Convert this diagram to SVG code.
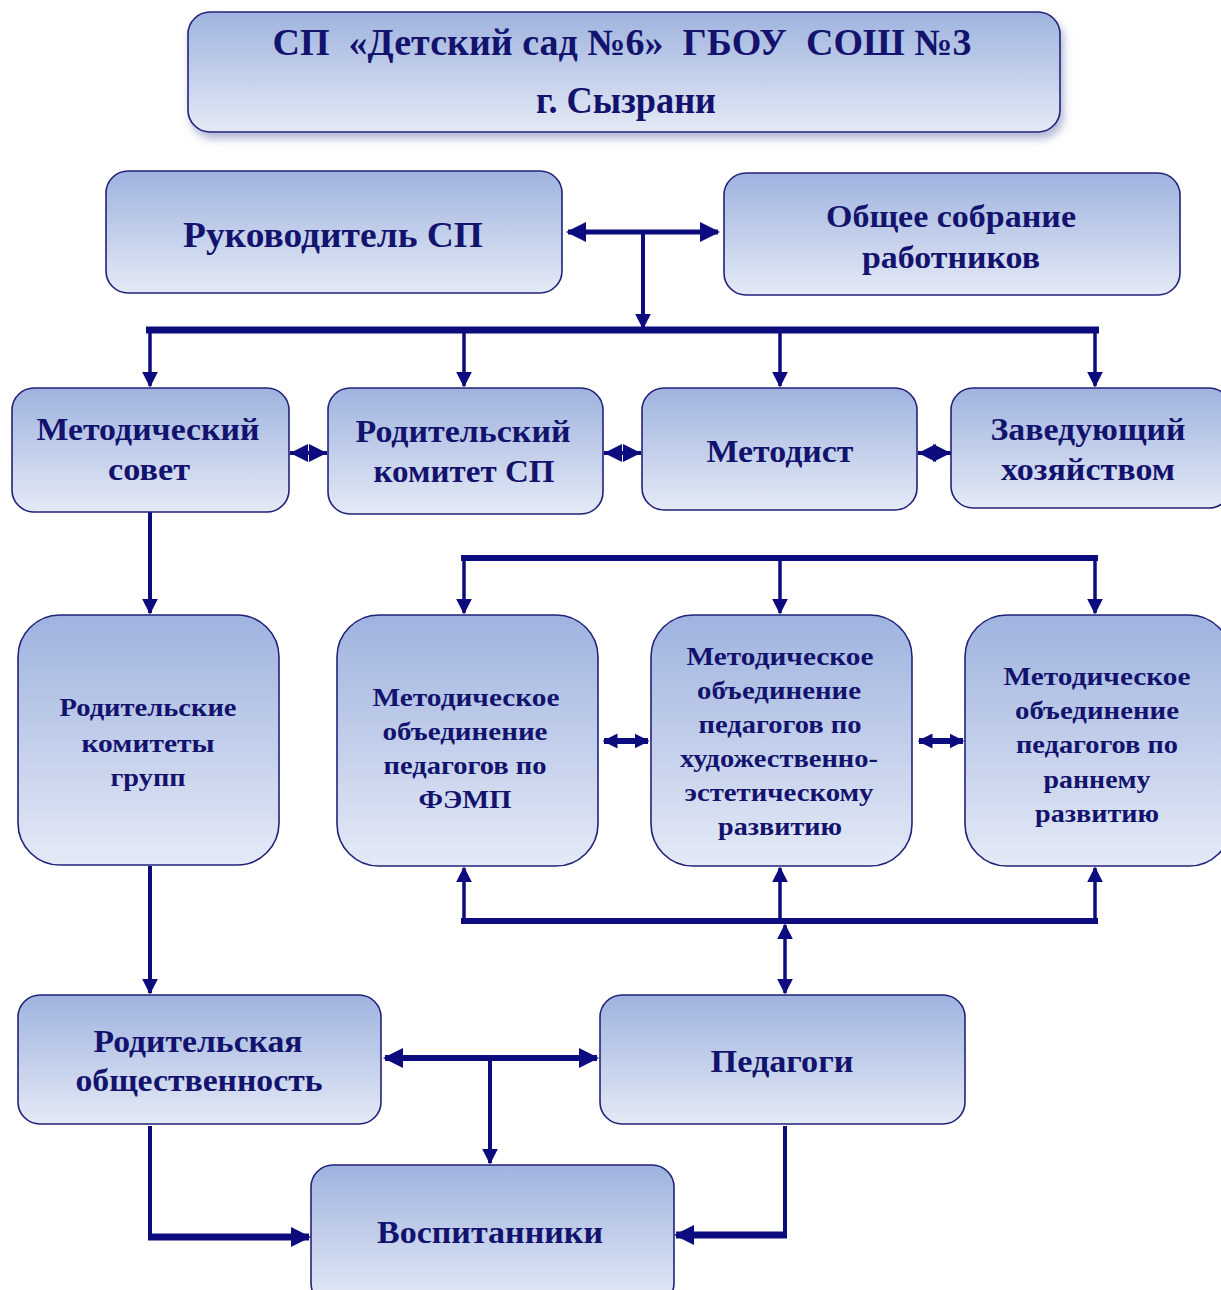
<svg xmlns="http://www.w3.org/2000/svg" width="1221" height="1290" viewBox="0 0 1221 1290">
<defs>
<linearGradient id="g" x1="0" y1="0" x2="0" y2="1">
<stop offset="0" stop-color="#9fb3df"/>
<stop offset="1" stop-color="#e4eaf6"/>
</linearGradient>
<filter id="sh" x="-10%" y="-10%" width="120%" height="140%">
<feGaussianBlur in="SourceAlpha" stdDeviation="4"/>
<feOffset dx="3" dy="6" result="b"/>
<feFlood flood-color="#5060a0" flood-opacity="0.45"/>
<feComposite in2="b" operator="in"/>
<feMerge><feMergeNode/><feMergeNode in="SourceGraphic"/></feMerge>
</filter>
<marker id="ah" viewBox="0 0 10 10" refX="9" refY="5" markerWidth="16" markerHeight="16" markerUnits="userSpaceOnUse" orient="auto-start-reverse">
<path d="M0,0 L10,5 L0,10 z" fill="#0c0c7e"/>
</marker>
<marker id="ahb" viewBox="0 0 10 10" refX="9" refY="5" markerWidth="20" markerHeight="22" markerUnits="userSpaceOnUse" orient="auto-start-reverse">
<path d="M0,0 L10,5 L0,10 z" fill="#0c0c7e"/>
</marker>
<marker id="ahd" viewBox="0 0 10 10" refX="10" refY="5" markerWidth="18" markerHeight="22" markerUnits="userSpaceOnUse" orient="auto-start-reverse">
<path d="M0,0 L10,5 L0,10 z" fill="#0c0c7e"/>
</marker>
<marker id="ahs" viewBox="0 0 10 10" refX="9" refY="5" markerWidth="15" markerHeight="22" markerUnits="userSpaceOnUse" orient="auto-start-reverse">
<path d="M0,0 L10,5 L0,10 z" fill="#0c0c7e"/>
</marker>
</defs>
<style>
.box{fill:url(#g);stroke:#22227a;stroke-width:1.6}
.t{font-family:"Liberation Serif","Times New Roman",serif;font-weight:bold;fill:#13136e;text-anchor:middle}
.c{fill:none;stroke:#0c0c7e;stroke-linejoin:miter}
</style>
<rect width="1221" height="1290" fill="#ffffff"/>

<g id="connectors">
<path class="c" d="M568,232 H718" stroke-width="5" marker-start="url(#ahb)" marker-end="url(#ahb)"/>
<path class="c" d="M643,232 V328" stroke-width="4" marker-end="url(#ah)"/>
<path class="c" d="M146,330 H1099" stroke-width="7"/>
<path class="c" d="M150,330 V386" stroke-width="3.5" marker-end="url(#ah)"/>
<path class="c" d="M464,330 V386" stroke-width="3.5" marker-end="url(#ah)"/>
<path class="c" d="M780,330 V386" stroke-width="3.5" marker-end="url(#ah)"/>
<path class="c" d="M1095,330 V386" stroke-width="3.5" marker-end="url(#ah)"/>
<path class="c" d="M290,453 H327" stroke-width="4" marker-start="url(#ahd)" marker-end="url(#ahd)"/>
<path class="c" d="M604,453 H641" stroke-width="4" marker-start="url(#ahd)" marker-end="url(#ahd)"/>
<path class="c" d="M918,453 H951" stroke-width="4" marker-start="url(#ahd)" marker-end="url(#ahd)"/>
<path class="c" d="M150,512 V613" stroke-width="4" marker-end="url(#ah)"/>
<path class="c" d="M150,866 V993" stroke-width="4" marker-end="url(#ah)"/>
<path class="c" d="M461,558 H1098" stroke-width="6"/>
<path class="c" d="M464,558 V613" stroke-width="3.5" marker-end="url(#ah)"/>
<path class="c" d="M780,558 V613" stroke-width="3.5" marker-end="url(#ah)"/>
<path class="c" d="M1095,558 V613" stroke-width="3.5" marker-end="url(#ah)"/>
<path class="c" d="M604,741 H648" stroke-width="6" marker-start="url(#ahs)" marker-end="url(#ahs)"/>
<path class="c" d="M919,741 H963" stroke-width="6" marker-start="url(#ahs)" marker-end="url(#ahs)"/>
<path class="c" d="M461,921 H1098" stroke-width="6"/>
<path class="c" d="M464,921 V868" stroke-width="3.5" marker-end="url(#ah)"/>
<path class="c" d="M780,921 V868" stroke-width="3.5" marker-end="url(#ah)"/>
<path class="c" d="M1095,921 V868" stroke-width="3.5" marker-end="url(#ah)"/>
<path class="c" d="M785,925 V993" stroke-width="3.5" marker-start="url(#ah)" marker-end="url(#ah)"/>
<path class="c" d="M385,1058 H597" stroke-width="6" marker-start="url(#ahb)" marker-end="url(#ahb)"/>
<path class="c" d="M490,1058 V1163" stroke-width="4" marker-end="url(#ah)"/>
<path class="c" d="M150,1126 V1237" stroke-width="4"/>
<path class="c" d="M148,1237 H309" stroke-width="7" marker-end="url(#ahb)"/>
<path class="c" d="M785,1126 V1235" stroke-width="4"/>
<path class="c" d="M787,1235 H676" stroke-width="7" marker-end="url(#ahb)"/>
</g>

<g id="title">
<rect class="box" x="188" y="12" width="872" height="120" rx="22" filter="url(#sh)"/>
<text class="t" x="622" y="55" font-size="37" xml:space="preserve" textLength="699" lengthAdjust="spacingAndGlyphs">СП  «Детский сад №6»  ГБОУ  СОШ №3</text>
<text class="t" x="626" y="113" font-size="37" textLength="180" lengthAdjust="spacingAndGlyphs">г. Сызрани</text>
</g>

<g id="rukovoditel">
<rect class="box" x="106" y="171" width="456" height="122" rx="22"/>
<text class="t" x="333" y="247" font-size="36" textLength="300" lengthAdjust="spacingAndGlyphs">Руководитель СП</text>
</g>

<g id="sobranie">
<rect class="box" x="724" y="173" width="456" height="122" rx="22"/>
<text class="t" x="951" y="227" font-size="32" textLength="250" lengthAdjust="spacingAndGlyphs">Общее собрание</text>
<text class="t" x="951" y="268" font-size="32" textLength="178" lengthAdjust="spacingAndGlyphs">работников</text>
</g>

<g id="metsovet">
<rect class="box" x="12" y="388" width="277" height="124" rx="22"/>
<text class="t" x="148" y="440" font-size="32" textLength="223" lengthAdjust="spacingAndGlyphs">Методический</text>
<text class="t" x="149" y="480" font-size="32" textLength="82" lengthAdjust="spacingAndGlyphs">совет</text>
</g>

<g id="rodkomitet">
<rect class="box" x="328" y="388" width="275" height="126" rx="22"/>
<text class="t" x="463" y="442" font-size="32" textLength="215" lengthAdjust="spacingAndGlyphs">Родительский</text>
<text class="t" x="464" y="482" font-size="32" textLength="181" lengthAdjust="spacingAndGlyphs">комитет СП</text>
</g>

<g id="metodist">
<rect class="box" x="642" y="388" width="275" height="122" rx="22"/>
<text class="t" x="780" y="462" font-size="32" textLength="147" lengthAdjust="spacingAndGlyphs">Методист</text>
</g>

<g id="zavhoz">
<rect class="box" x="951" y="388" width="280" height="120" rx="22"/>
<text class="t" x="1088" y="440" font-size="32" textLength="195" lengthAdjust="spacingAndGlyphs">Заведующий</text>
<text class="t" x="1088" y="480" font-size="32" textLength="174" lengthAdjust="spacingAndGlyphs">хозяйством</text>
</g>

<g id="rodkomgrupp">
<rect class="box" x="18" y="615" width="261" height="250" rx="42"/>
<text class="t" x="148" y="716" font-size="26" textLength="177" lengthAdjust="spacingAndGlyphs">Родительские</text>
<text class="t" x="148" y="752" font-size="26" textLength="133" lengthAdjust="spacingAndGlyphs">комитеты</text>
<text class="t" x="148" y="786" font-size="26" textLength="75" lengthAdjust="spacingAndGlyphs">групп</text>
</g>

<g id="mo-femp">
<rect class="box" x="337" y="615" width="261" height="251" rx="42"/>
<text class="t" x="466" y="706" font-size="26" textLength="187" lengthAdjust="spacingAndGlyphs">Методическое</text>
<text class="t" x="465" y="740" font-size="26" textLength="165" lengthAdjust="spacingAndGlyphs">объединение</text>
<text class="t" x="465" y="774" font-size="26" textLength="163" lengthAdjust="spacingAndGlyphs">педагогов по</text>
<text class="t" x="465" y="808" font-size="26" textLength="93" lengthAdjust="spacingAndGlyphs">ФЭМП</text>
</g>

<g id="mo-hud">
<rect class="box" x="651" y="615" width="261" height="251" rx="42"/>
<text class="t" x="780" y="665" font-size="25" textLength="187" lengthAdjust="spacingAndGlyphs">Методическое</text>
<text class="t" x="779" y="699" font-size="25" textLength="164" lengthAdjust="spacingAndGlyphs">объединение</text>
<text class="t" x="780" y="733" font-size="25" textLength="163" lengthAdjust="spacingAndGlyphs">педагогов по</text>
<text class="t" x="779" y="767" font-size="25" textLength="198" lengthAdjust="spacingAndGlyphs">художественно-</text>
<text class="t" x="779" y="801" font-size="25" textLength="189" lengthAdjust="spacingAndGlyphs">эстетическому</text>
<text class="t" x="780" y="835" font-size="25" textLength="124" lengthAdjust="spacingAndGlyphs">развитию</text>
</g>

<g id="mo-rannee">
<rect class="box" x="965" y="615" width="266" height="251" rx="42"/>
<text class="t" x="1097" y="685" font-size="25" textLength="187" lengthAdjust="spacingAndGlyphs">Методическое</text>
<text class="t" x="1097" y="719" font-size="25" textLength="164" lengthAdjust="spacingAndGlyphs">объединение</text>
<text class="t" x="1097" y="753" font-size="25" textLength="162" lengthAdjust="spacingAndGlyphs">педагогов по</text>
<text class="t" x="1097" y="788" font-size="25" textLength="107" lengthAdjust="spacingAndGlyphs">раннему</text>
<text class="t" x="1097" y="822" font-size="25" textLength="124" lengthAdjust="spacingAndGlyphs">развитию</text>
</g>

<g id="rodobsh">
<rect class="box" x="18" y="995" width="363" height="129" rx="22"/>
<text class="t" x="198" y="1052" font-size="32" textLength="209" lengthAdjust="spacingAndGlyphs">Родительская</text>
<text class="t" x="199" y="1091" font-size="32" textLength="247" lengthAdjust="spacingAndGlyphs">общественность</text>
</g>

<g id="pedagogi">
<rect class="box" x="600" y="995" width="365" height="129" rx="22"/>
<text class="t" x="782" y="1072" font-size="32" textLength="143" lengthAdjust="spacingAndGlyphs">Педагоги</text>
</g>

<g id="vospitanniki">
<rect class="box" x="311" y="1165" width="363" height="140" rx="22"/>
<text class="t" x="490" y="1243" font-size="32" textLength="226" lengthAdjust="spacingAndGlyphs">Воспитанники</text>
</g>
</svg>
